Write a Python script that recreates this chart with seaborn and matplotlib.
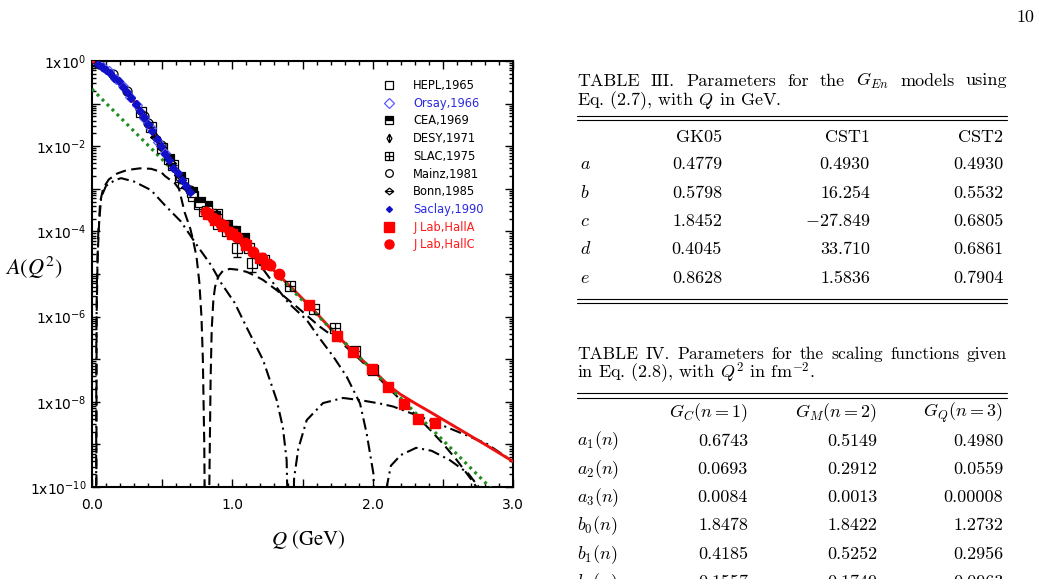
import numpy as np
import matplotlib
matplotlib.use("Agg")
import matplotlib.pyplot as plt
from matplotlib.path import Path
from matplotlib.lines import Line2D
from matplotlib.ticker import FixedLocator, FuncFormatter, LogLocator, MultipleLocator, NullFormatter
import seaborn as sns

sns.set_theme(style="ticks")
plt.rcParams['font.family'] = ['DejaVu Sans']
plt.rcParams['axes.unicode_minus'] = False

# ---- theory curves: Q in GeV, values are log10 A(Q^2)
q_total = [0.0, 0.1, 0.2, 0.3, 0.4, 0.5, 0.6, 0.7, 0.8, 0.9, 1.0, 1.1, 1.2, 1.3, 1.4, 1.5, 1.6, 1.7, 1.8, 1.9,
           2.0, 2.1, 2.15, 2.2, 2.3, 2.4, 2.6, 2.8, 3.0]
lg_total = [0.0, -0.19, -0.51, -0.95, -1.48, -2.07, -2.6, -3.07, -3.47, -3.77, -4.04, -4.33, -4.63, -4.93, -5.25,
            -5.58, -5.92, -6.28, -6.62, -6.94, -7.25, -7.57, -7.71, -7.83, -8.03, -8.22, -8.61, -9.0, -9.4]

q_green = [0.0, 0.5, 1.0, 1.5, 2.0, 2.5, 2.84]
lg_green = [-0.66, -2.31, -3.97, -5.62, -7.26, -8.90, -10.02]

q_dash = [0.03, 0.033, 0.04, 0.057, 0.08, 0.12, 0.18, 0.25, 0.34, 0.42,
          0.49, 0.52, 0.59, 0.62, 0.66, 0.70, 0.72, 0.745, 0.765, 0.78,
          0.79, 0.80, 0.812, 0.826, 0.836, 0.845, 0.853, 0.865, 0.877, 0.9,
          0.934, 0.983, 1.04, 1.102, 1.174, 1.219, 1.316, 1.459, 1.625, 1.767,
          1.9, 2.0, 2.1, 2.2, 2.31, 2.41, 2.5, 2.6, 2.706, 2.76]
lg_dash = [-14, -6.0, -4.6, -3.33, -2.98, -2.78, -2.64, -2.56, -2.52, -2.53,
           -2.6, -2.7, -2.87, -3.0, -3.55, -3.93, -4.2, -4.6, -5.2, -6.0,
           -7.0, -9.0, -14, -14, -10.0, -7.5, -6.3, -5.6, -5.3, -5.06,
           -4.92, -4.88, -4.9, -4.95, -5.06, -5.14, -5.38, -5.77, -6.24, -6.58,
           -6.98, -7.3, -7.63, -7.96, -8.32, -8.66, -8.98, -9.37, -9.84, -10.1]

q_dd1 = [0.028, 0.031, 0.035, 0.045, 0.066, 0.1, 0.162, 0.207, 0.3, 0.42,
         0.518, 0.634, 0.755, 0.848, 0.92, 1.017, 1.1, 1.219, 1.316, 1.36,
         1.387, 1.417, 1.44, 1.47, 1.53, 1.646, 1.789, 1.91, 2.05, 2.145,
         2.3, 2.456, 2.62, 2.81, 2.955, 3.0]
lg_dd1 = [-14, -6.5, -5.2, -4.0, -3.19, -2.93, -2.8, -2.75, -2.83, -3.03,
          -3.38, -3.77, -4.36, -4.79, -5.21, -5.68, -6.24, -7.02, -7.96, -8.6,
          -9.37, -14, -9.8, -9.1, -8.43, -8.03, -7.91, -7.96, -8.04, -8.11,
          -8.3, -8.5, -8.72, -8.98, -9.3, -9.42]

q_dd2 = [0.0, 0.1, 0.2, 0.3, 0.4, 0.5, 0.6, 0.7, 0.8, 0.9, 1.0,
         1.1, 1.2, 1.3, 1.4, 1.53, 1.62, 1.72, 1.815, 1.91, 1.957,
         2.005, 2.06, 2.1, 2.13, 2.2, 2.31, 2.42, 2.55, 2.68, 2.78]
lg_dd2 = [0.0, -0.2, -0.53, -0.97, -1.5, -2.09, -2.63, -3.1, -3.5, -3.8, -4.07,
          -4.36, -4.8, -5.25, -5.68, -6.08, -6.5, -6.94, -7.41, -8.04, -8.74,
          -9.68, -14, -10.0, -9.5, -9.25, -9.08, -9.15, -9.37, -9.68, -10.1]

# ---- data sets (Q in GeV, log10 A)
q_hepl = [0.35, 0.42, 0.5, 0.58, 0.65, 0.72, 0.76, 0.8, 0.85, 0.9, 0.96, 1.03, 1.14]
lg_hepl = [-1.19, -1.56, -2.04, -2.45, -2.86, -3.18, -3.35, -3.52, -3.58, -3.82, -3.98, -4.40, -4.75]
err_hepl = [0, 0, 0, 0, 0, 0, 0, 0, 0, 0, 0, 0.2, 0.2]

q_orsay = [0.08, 0.12, 0.17, 0.22, 0.27, 0.32, 0.37, 0.42, 0.47, 0.52]
lg_orsay = [-0.13, -0.23, -0.42, -0.58, -0.84, -1.03, -1.34, -1.58, -1.91, -2.16]

q_cea = [0.55, 0.63, 0.71, 0.77, 0.82, 0.88, 0.96, 1.02, 1.08]
lg_cea = [-2.31, -2.72, -3.08, -3.30, -3.40, -3.63, -3.86, -4.0, -4.16]

q_desy = [0.28, 0.33, 0.38, 0.44, 0.49, 0.54]
lg_desy = [-0.85, -1.12, -1.38, -1.72, -2.0, -2.28]

q_slac = [0.894, 1.0, 1.118, 1.225, 1.414, 1.581, 1.732, 1.871, 2.0]
lg_slac = [-3.6, -3.98, -4.38, -4.68, -5.28, -5.81, -6.26, -6.8, -7.25]

q_mainz = [0.02, 0.05, 0.15, 0.25, 0.37, 0.40, 0.49, 0.63, 0.70]
lg_mainz = [-0.02, -0.08, -0.31, -0.70, -1.28, -1.46, -1.97, -2.72, -3.02]

q_bonn = [0.45, 0.5, 0.56, 0.62, 0.67]
lg_bonn = [-1.79, -2.05, -2.40, -2.68, -2.95]

q_saclay = [0.04, 0.07, 0.1, 0.13, 0.16, 0.19, 0.22, 0.25, 0.28, 0.31, 0.34, 0.37,
            0.4, 0.43, 0.46, 0.49, 0.52, 0.55, 0.58, 0.61, 0.64, 0.67, 0.7]
lg_saclay = [-0.07, -0.14, -0.20, -0.27, -0.39, -0.47, -0.61, -0.72, -0.87, -1.00, -1.17, -1.31,
             -1.49, -1.64, -1.84, -2.00, -2.18, -2.33, -2.50, -2.64, -2.80, -2.93, -3.07]

q_halla = [0.83, 0.88, 0.93, 1.0, 1.1, 1.2, 1.24, 1.547, 1.744, 1.862, 1.998, 2.107, 2.226, 2.32, 2.444]
lg_halla = [-3.58, -3.74, -3.88, -4.06, -4.33, -4.62, -4.77, -5.73, -6.45, -6.83, -7.24, -7.65, -8.05, -8.40, -8.49]

q_hallc = [0.81, 0.86, 0.92, 0.98, 1.03, 1.09, 1.15, 1.21, 1.27, 1.33]
lg_hallc = [-3.54, -3.68, -3.83, -4.01, -4.14, -4.28, -4.48, -4.62, -4.8, -5.0]

labels = ["HEPL,1965", "Orsay,1966", "CEA,1969", "DESY,1971", "SLAC,1975", "Mainz,1981",
          "Bonn,1985", "Saclay,1990", "J Lab,HallA", "J Lab,HallC"]
label_colors = ["black", "#2a2ae0", "black", "black", "black", "black",
                "black", "#2a2ae0", "#ff1a1a", "#ff1a1a"]

# ---- tables
t3_cols = ["GK05", "CST1", "CST2"]
t3_rows = ["$a$", "$b$", "$c$", "$d$", "$e$"]
t3_gk05 = ["0.4779", "0.5798", "1.8452", "0.4045", "0.8628"]
t3_cst1 = ["0.4930", "16.254", "$-27.849$", "33.710", "1.5836"]
t3_cst2 = ["0.4930", "0.5532", "0.6805", "0.6861", "0.7904"]

t4_cols = ["$G_C(n=1)$", "$G_M(n=2)$", "$G_Q(n=3)$"]
t4_rows = ["$a_1(n)$", "$a_2(n)$", "$a_3(n)$", "$b_0(n)$", "$b_1(n)$", "$b_2(n)$"]
t4_gc = ["0.6743", "0.0693", "0.0084", "1.8478", "0.4185", "0.1557"]
t4_gm = ["0.5149", "0.2912", "0.0013", "1.8422", "0.5252", "0.1749"]
t4_gq = ["0.4980", "0.0559", "0.00008", "1.2732", "0.2956", "0.0963"]

W, H = 1043, 579


def fx(x):
    return x / W


def fy(y):
    return 1 - y / H


fig = plt.figure(figsize=(W / 100, H / 100), dpi=100)
fig.patch.set_facecolor("white")
ax = fig.add_axes([fx(92), fy(487), 421 / W, 426 / H])
ax.set_facecolor("white")
ax.set_yscale("log")


def draw_curve(q, lg, **kw):
    sns.lineplot(x=q, y=np.power(10.0, lg), ax=ax, estimator=None, sort=False, **kw)


dashdot = (0, (5.5, 2.2, 1.0, 2.2))
draw_curve(q_dd2, lg_dd2, color="black", linewidth=1.5, linestyle=dashdot, zorder=2)
draw_curve(q_dd1, lg_dd1, color="black", linewidth=1.5, linestyle=dashdot, zorder=2)
draw_curve(q_dash, lg_dash, color="black", linewidth=1.5, linestyle=(0, (5, 2.6)), zorder=2)
draw_curve(q_total, lg_total, color="#ee1111", linewidth=2.1, zorder=3)
draw_curve(q_green, lg_green, color="#1f8f1f", linewidth=2.3, linestyle=(0, (0.9, 1.3)), zorder=3)


def draw_points(q, lg, **kw):
    return ax.plot(q, np.power(10.0, lg), linestyle="none", **kw)[0]


desy_mark = Path([(0, 1), (0.6, 0), (0, -1), (-0.6, 0), (0, 1), (0, 1.1), (0, -1.1)],
                 [Path.MOVETO, Path.LINETO, Path.LINETO, Path.LINETO, Path.CLOSEPOLY, Path.MOVETO, Path.LINETO])
slac_mark = Path([(-1, -1), (1, -1), (1, 1), (-1, 1), (-1, -1), (-1, 0), (1, 0), (0, -1), (0, 1)],
                 [Path.MOVETO, Path.LINETO, Path.LINETO, Path.LINETO, Path.CLOSEPOLY,
                  Path.MOVETO, Path.LINETO, Path.MOVETO, Path.LINETO])
bonn_mark = Path([(0, 0.8), (1, 0), (0, -0.8), (-1, 0), (0, 0.8), (-1, 0), (1, 0)],
                 [Path.MOVETO, Path.LINETO, Path.LINETO, Path.LINETO, Path.CLOSEPOLY, Path.MOVETO, Path.LINETO])

open_kw = dict(markerfacecolor="none", markeredgecolor="black", markeredgewidth=0.9)

y_hepl = np.power(10.0, lg_hepl)
e_hepl = np.array(err_hepl)
ax.errorbar(q_hepl, y_hepl, yerr=[y_hepl - y_hepl * 10 ** -e_hepl, y_hepl * 10 ** e_hepl - y_hepl],
            fmt="none", ecolor="black", elinewidth=0.9, capsize=3, zorder=4)
h_hepl = draw_points(q_hepl, lg_hepl, marker="s", markersize=6.5, zorder=4, **open_kw)
h_cea = draw_points(q_cea, lg_cea, marker="s", markersize=6.5, fillstyle="top", markerfacecolor="black",
                    markerfacecoloralt="white", markeredgecolor="black", markeredgewidth=0.9, zorder=4)
h_desy = draw_points(q_desy, lg_desy, marker=desy_mark, markersize=7, zorder=4, **open_kw)
h_slac = draw_points(q_slac, lg_slac, marker=slac_mark, markersize=7, zorder=4, **open_kw)
h_mainz = draw_points(q_mainz, lg_mainz, marker="o", markersize=6.5, zorder=4, **open_kw)
h_bonn = draw_points(q_bonn, lg_bonn, marker=bonn_mark, markersize=7, zorder=4, **open_kw)
h_orsay = draw_points(q_orsay, lg_orsay, marker="D", markersize=5.5, markerfacecolor="none",
                      markeredgecolor="#5a5aff", markeredgewidth=0.9, zorder=5)
h_saclay = draw_points(q_saclay, lg_saclay, marker="D", markersize=4, markerfacecolor="#1010c8",
                       markeredgecolor="#1010c8", zorder=5)
h_halla = draw_points(q_halla, lg_halla, marker="s", markersize=7.5, markerfacecolor="#ff0000",
                      markeredgecolor="#ff0000", zorder=6)
h_hallc = draw_points(q_hallc, lg_hallc, marker="o", markersize=7.5, markerfacecolor="#ff0000",
                      markeredgecolor="#ff0000", zorder=6)

handles = [h_hepl, h_orsay, h_cea, h_desy, h_slac, h_mainz, h_bonn, h_saclay, h_halla, h_hallc]
leg_sizes = [5.5, 5.5, 5.5, 6.5, 6.0, 5.5, 6.0, 3.0, 6.5, 6.5]
leg = ax.legend(handles, labels, loc="upper left", bbox_to_anchor=(0.692, 0.958), frameon=False,
                fontsize=8.3, handlelength=1.0, handletextpad=1.6, labelspacing=0.41,
                borderpad=0, borderaxespad=0, numpoints=1)
for t, c in zip(leg.get_texts(), label_colors):
    t.set_color(c)
for h, ms in zip(leg.legend_handles, leg_sizes):
    h.set_markersize(ms)

ax.set_xlim(0, 3)
ax.set_ylim(1e-10, 1)

ax.yaxis.set_major_locator(FixedLocator(10.0 ** np.arange(-10, 1)))
ax.yaxis.set_major_formatter(FuncFormatter(
    lambda v, p: r"$\mathregular{1x10^{%d}}$" % round(np.log10(v)) if round(np.log10(v)) % 2 == 0 else ""))
ax.yaxis.set_minor_locator(LogLocator(base=10, subs=np.arange(2, 10), numticks=30))
ax.yaxis.set_minor_formatter(NullFormatter())
ax.xaxis.set_major_locator(MultipleLocator(0.5))
ax.xaxis.set_major_formatter(FuncFormatter(lambda v, p: f"{v:.1f}" if abs(v - round(v)) < 1e-6 else ""))
ax.xaxis.set_minor_locator(MultipleLocator(0.1))

ax.tick_params(which="both", direction="in", top=True, right=True, colors="black", width=1.0)
ax.tick_params(which="major", length=5.5, labelsize=10)
ax.tick_params(which="minor", length=3)
ax.tick_params(axis="x", which="major", pad=8)
ax.tick_params(axis="y", which="major", pad=4)
for s in ax.spines.values():
    s.set_linewidth(1.5)
    s.set_color("black")

ax.set_ylabel(r"$A(Q^2)$", rotation=0, fontsize=16, math_fontfamily="stix", color="black")
ax.yaxis.set_label_coords(-0.138, 0.514)
ax.yaxis.label.set_verticalalignment("center")
ax.yaxis.label.set_horizontalalignment("center")
ax.set_xlabel(r"$Q$ (GeV)", fontsize=15, family="STIXGeneral", math_fontfamily="stix", color="black")
ax.xaxis.set_label_coords(0.513, -0.124)
ax.xaxis.label.set_verticalalignment("center")

# ---- text part of the page
tkw = dict(family="cmr10", math_fontfamily="cm", color="black")
renderer = fig.canvas.get_renderer()


def justified(words, x0, x1, yb, size):
    objs = [fig.text(0, 0, w, va="baseline", ha="left", fontsize=size, **tkw) for w in words]
    widths = [o.get_window_extent(renderer).width for o in objs]
    gap = (x1 - x0 - sum(widths)) / (len(objs) - 1)
    x = x0
    for o, w in zip(objs, widths):
        o.set_position((fx(x), fy(yb)))
        x += w + gap


def rule(y):
    fig.add_artist(Line2D([fx(577), fx(1007)], [fy(y), fy(y)], color="black", linewidth=0.8,
                          transform=fig.transFigure))


def put(x, yb, s, ha="right", size=13):
    fig.text(fx(x), fy(yb), s, ha=ha, va="baseline", fontsize=size, **tkw)


put(1034, 22, "10")

justified(["TABLE", "III.", "Parameters", "for", "the", "$G_{En}$", "models", "using"], 577, 1007, 85.5, 13)
put(577, 105, "Eq. (2.7), with $Q$ in GeV.", ha="left")
rule(115.5)
rule(120)
for x, s in zip([722, 870, 1003], t3_cols):
    put(x, 142, s)
for i in range(len(t3_rows)):
    yb = 169.5 + 28.3 * i
    put(580, yb, t3_rows[i], ha="left")
    put(722, yb, t3_gk05[i])
    put(870, yb, t3_cst1[i])
    put(1003, yb, t3_cst2[i])
rule(298.5)
rule(303)

justified(["TABLE", "IV.", "Parameters", "for", "the", "scaling", "functions", "given"], 577, 1007, 359, 12.6)
put(577, 378.5, "in Eq. (2.8), with $Q^2$ in fm$^{-2}$.", ha="left")
rule(393.3)
rule(397.7)
for x, s in zip([748, 877, 1003], t4_cols):
    put(x, 417, s)
for i in range(len(t4_rows)):
    yb = 445.5 + 28.3 * i
    put(577, yb, t4_rows[i], ha="left")
    put(748, yb, t4_gc[i])
    put(877, yb, t4_gm[i])
    put(1003, yb, t4_gq[i])

fig.savefig("out.png", dpi=100)
